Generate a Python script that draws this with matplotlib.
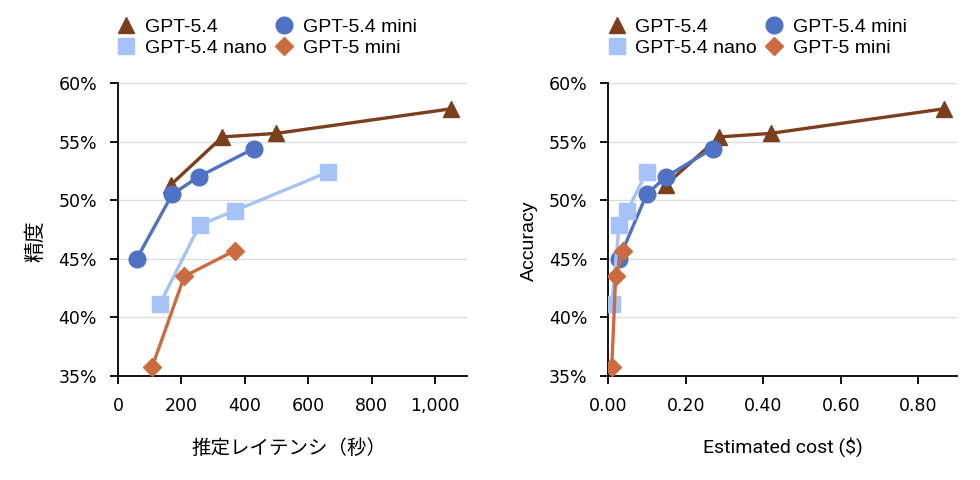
import matplotlib
matplotlib.use("Agg")
import matplotlib.pyplot as plt
from matplotlib.ticker import FuncFormatter, MultipleLocator

# data
names = ["GPT-5.4", "GPT-5.4 mini", "GPT-5.4 nano", "GPT-5 mini"]

lat_54 = [166, 329, 499, 1051]
acc_54 = [51.3, 55.4, 55.7, 57.8]
cost_54 = [0.148, 0.287, 0.419, 0.867]

lat_mini = [59, 171, 254, 428]
acc_mini = [45.0, 50.5, 52.0, 54.4]
cost_mini = [0.028, 0.099, 0.149, 0.269]

lat_nano = [131, 258, 368, 662]
acc_nano = [41.1, 47.9, 49.1, 52.4]
cost_nano = [0.009, 0.028, 0.049, 0.099]

lat_5mini = [108, 209, 368]
acc_5mini = [35.8, 43.5, 45.7]
cost_5mini = [0.009, 0.019, 0.038]

colors = ["#7b3f1e", "#5072c4", "#a6c2f7", "#cc6b40"]
markers = ["^", "o", "s", "D"]
msizes = [11, 12, 12, 9]

tick_font = ["Liberation Sans Narrow", "DejaVu Sans"]
jp_font = ["Noto Sans CJK JP", "DejaVu Sans"]

fig = plt.figure(figsize=(9.8, 4.8), dpi=100)
ax1 = fig.add_axes([0.1204, 0.2167, 0.3561, 0.6104])
ax2 = fig.add_axes([0.6207, 0.2167, 0.3558, 0.6104])

left_x = [lat_54, lat_mini, lat_nano, lat_5mini]
right_x = [cost_54, cost_mini, cost_nano, cost_5mini]
ys = [acc_54, acc_mini, acc_nano, acc_5mini]

for ax, xs in [(ax1, left_x), (ax2, right_x)]:
    lines = []
    for i in range(4):
        ln, = ax.plot(xs[i], ys[i], color=colors[i], marker=markers[i], ms=msizes[i],
                      lw=2.4, label=names[i], zorder=3)
        lines.append(ln)
    ax.set_ylim(35, 60)
    ax.yaxis.set_major_locator(MultipleLocator(5))
    ax.yaxis.set_major_formatter(FuncFormatter(lambda v, p: "%d%%" % v))
    ax.grid(axis="y", color="#dddddd", lw=1)
    ax.set_axisbelow(True)
    for s in ["top", "right"]:
        ax.spines[s].set_visible(False)
    for s in ["left", "bottom"]:
        ax.spines[s].set_color("black")
        ax.spines[s].set_linewidth(1.3)
    ax.tick_params(direction="out", length=6, width=1.3, color="black", pad=9)
    # row-wise order: 5.4, mini / nano, 5 mini
    order = [0, 2, 1, 3]
    leg = ax.legend([lines[k] for k in order], [names[k] for k in order],
                    loc="upper left", bbox_to_anchor=(-0.012, 1.235), ncol=2,
                    frameon=False, borderaxespad=0, borderpad=0.2,
                    prop={"family": ["Liberation Sans", "DejaVu Sans"], "size": 14},
                    handlelength=0.9, handletextpad=0.5, columnspacing=0.45,
                    labelspacing=0.2)
    for h in leg.legend_handles:
        h.set_linestyle("none")

ax1.set_xlim(0, 1100)
ax1.xaxis.set_major_locator(MultipleLocator(200))
ax1.xaxis.set_major_formatter(FuncFormatter(lambda v, p: "{:,}".format(int(v))))
ax2.set_xlim(0, 0.9)
ax2.xaxis.set_major_locator(MultipleLocator(0.2))
ax2.xaxis.set_major_formatter(FuncFormatter(lambda v, p: "%.2f" % v))
for ax in [ax1, ax2]:
    for lab in ax.get_xticklabels() + ax.get_yticklabels():
        lab.set_family(tick_font)
        lab.set_fontsize(12.5)

ax1.set_xlabel("推定レイテンシ（秒）", family=jp_font, fontsize=14)
ax1.set_ylabel("精度", family=jp_font, fontsize=15)
ax2.set_xlabel("Estimated cost ($)", family=["Roboto", "DejaVu Sans"], fontsize=14)
ax2.set_ylabel("Accuracy", family=["Liberation Sans", "DejaVu Sans"], fontsize=14)
ax1.xaxis.set_label_coords(0.49, -0.21)
ax2.xaxis.set_label_coords(0.5, -0.21)
ax1.yaxis.set_label_coords(-0.205, 0.46)
ax2.yaxis.set_label_coords(-0.203, 0.46)

fig.savefig("out.png", dpi=100)
